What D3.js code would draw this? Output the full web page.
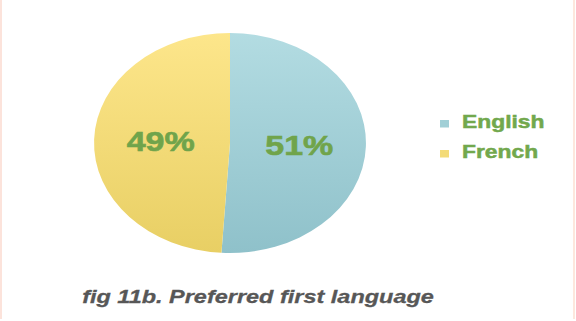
<!DOCTYPE html>
<html>
<head>
<meta charset="utf-8">
<script src="https://cdnjs.cloudflare.com/ajax/libs/d3/7.8.5/d3.min.js"></script>
<style>
  body { margin: 0; background: #fff; }
  svg { display: block; }
</style>
</head>
<body>
<div id="chart"></div>
<script>
const languages = ["English", "French"];
const shares = [51, 49];
const topColors = ["#b3dce2", "#fde68b"];
const bottomColors = ["#8fc1ca", "#e8cf64"];
const caption = "fig 11b. Preferred first language";

const width = 576, height = 321;
// the original picture is stretched sideways, so everything sits in a scaled group
const sx = 1.236;

const svg = d3.select("#chart")
    .append("svg")
    .attr("width", width)
    .attr("height", height);

// pale frame lines at left and right edges
svg.append("line")
    .attr("x1", 1).attr("x2", 1).attr("y1", 0).attr("y2", 319)
    .attr("stroke", "#fce3db").attr("stroke-width", 2);
svg.append("line")
    .attr("x1", 574).attr("x2", 574).attr("y1", 0).attr("y2", 319)
    .attr("stroke", "#fde7dd").attr("stroke-width", 2);

const data = languages.map((d, i) => ({ name: d, value: shares[i] }));

const defs = svg.append("defs");
const radius = 110;

data.forEach((d, i) => {
    const grad = defs.append("linearGradient")
        .attr("id", "grad" + i)
        .attr("gradientUnits", "userSpaceOnUse")
        .attr("x1", 0).attr("x2", 0)
        .attr("y1", -radius).attr("y2", radius);
    grad.append("stop").attr("offset", "0%").attr("stop-color", topColors[i]);
    grad.append("stop").attr("offset", "100%").attr("stop-color", bottomColors[i]);
});

const root = svg.append("g")
    .attr("transform", `scale(${sx},1)`);

const pie = d3.pie()
    .value(d => d.value)
    .sort(null);

const arc = d3.arc()
    .innerRadius(0)
    .outerRadius(radius);

const labelArc = d3.arc()
    .innerRadius(radius * 0.51)
    .outerRadius(radius * 0.51);

const g = root.append("g")
    .attr("transform", `translate(${230 / sx}, 143)`);

const arcs = pie(data);

g.selectAll("path")
    .data(arcs)
    .enter()
    .append("path")
    .attr("d", arc)
    .attr("fill", (d, i) => `url(#grad${i})`);

g.selectAll(".pct")
    .data(arcs)
    .enter()
    .append("text")
    .attr("class", "pct")
    .attr("transform", d => `translate(${labelArc.centroid(d)})`)
    .attr("text-anchor", "middle")
    .attr("dy", "0.36em")
    .style("font", "bold 27.5px 'Liberation Sans', Arial, sans-serif")
    .style("fill", "#70a44b")
    .style("stroke", "#70a44b")
    .style("stroke-width", 0.6)
    .text(d => d.data.value + "%");

// legend
const legend = root.append("g")
    .attr("transform", `translate(${440 / sx}, 120)`)
    .selectAll("g")
    .data(data)
    .enter()
    .append("g")
    .attr("transform", (d, i) => `translate(0, ${i * 30})`);

legend.append("rect")
    .attr("width", 9 / sx)
    .attr("height", 7.5)
    .attr("fill", (d, i) => d3.interpolateRgb(topColors[i], bottomColors[i])(0.5));

legend.append("text")
    .attr("x", 22 / sx)
    .attr("y", 8)
    .style("font", "bold 18.5px 'Liberation Sans', Arial, sans-serif")
    .style("fill", "#72a84d")
    .style("stroke", "#72a84d")
    .style("stroke-width", 0.5)
    .text(d => d.name);

root.append("text")
    .attr("x", 258 / sx)
    .attr("y", 303)
    .attr("text-anchor", "middle")
    .style("font", "italic bold 19px 'Liberation Sans', Arial, sans-serif")
    .style("fill", "#575757")
    .style("stroke", "#575757")
    .style("stroke-width", 0.3)
    .text(caption);
</script>
</body>
</html>
